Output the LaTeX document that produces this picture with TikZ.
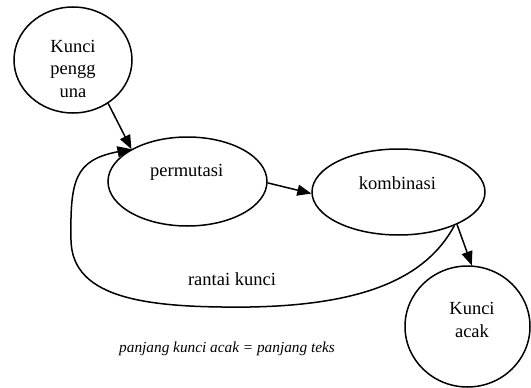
\documentclass[tikz,border=0pt]{standalone}
\usepackage{fontspec}
\setmainfont{Liberation Serif}
\usetikzlibrary{arrows.meta,shapes.geometric}
\begin{document}
\begin{tikzpicture}[x=1pt,y=-1pt,
  shapebox/.style={draw,ellipse,line width=1.5pt,inner sep=0pt},
  lbl/.style={font=\fontsize{18.5}{22.5}\selectfont,anchor=base,inner sep=0pt,align=center},
  conn/.style={line width=1.5pt,-{Triangle[length=14pt,width=11pt]}}]
\useasboundingbox (0,0) rectangle (531,388);
\node[shapebox,minimum width=118pt,minimum height=106pt] (user) at (73,60) {};
\node[shapebox,minimum width=159pt,minimum height=89pt] (perm) at (187.5,181.5) {};
\node[shapebox,minimum width=173pt,minimum height=86pt] (komb) at (398.5,192) {};
\node[shapebox,minimum width=125pt,minimum height=121pt] (acak) at (467.5,326.5) {};
\node[lbl] (tuser) at (73,97) {Kunci\\pengg\\una};
\node[lbl] (tperm) at (186.7,176) {permutasi};
\node[lbl] (tkomb) at (397.5,189) {kombinasi};
\node[lbl] (tacak) at (472,337) {Kunci\\acak};
\node[lbl] (tloop) at (232,285) {rantai kunci};
\node[font=\fontsize{15.3}{18}\selectfont\itshape,anchor=base east,inner sep=0pt] (note) at (335,352) {panjang kunci acak = panjang teks};
\draw[conn] (user.-51) -- (perm.150);
\draw[conn] (perm.-1) -- (komb.181);
\draw[conn] (komb.-29) -- (acak.86);
\draw[conn] (komb.-31) .. controls (425,280) and (360,305) .. (250,307)
  .. controls (150,308) and (72,300) .. (71,240)
  .. controls (70,180) and (75,160) .. (perm.150);
\end{tikzpicture}
\end{document}
